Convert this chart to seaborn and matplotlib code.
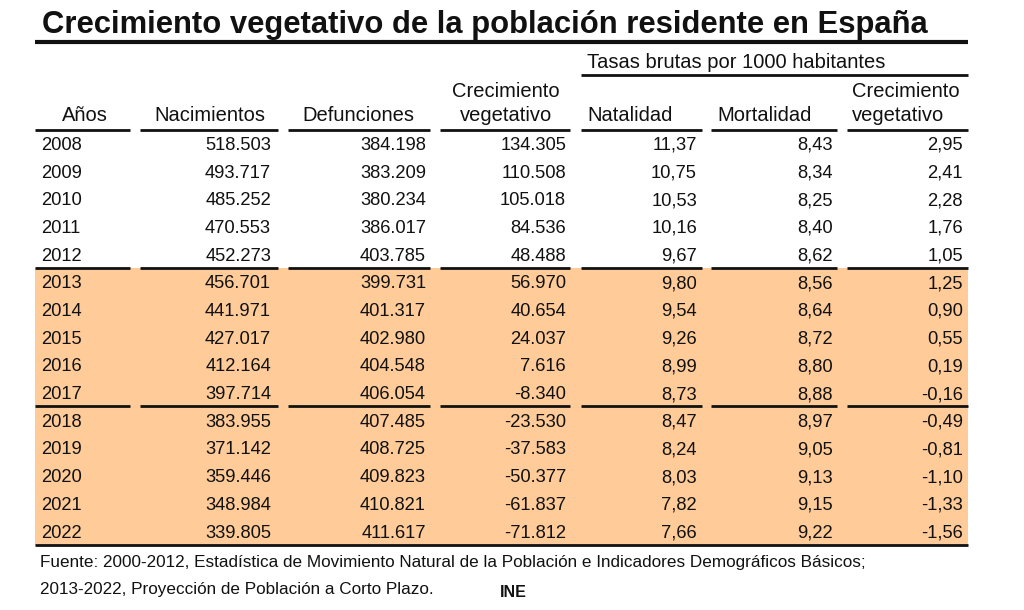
import matplotlib
matplotlib.use("Agg")
import matplotlib.pyplot as plt
import seaborn as sns
import pandas as pd

# ---------------- data ----------------
years = [2008, 2009, 2010, 2011, 2012, 2013, 2014, 2015, 2016, 2017,
         2018, 2019, 2020, 2021, 2022]
nacimientos = [518503, 493717, 485252, 470553, 452273, 456701, 441971, 427017,
               412164, 397714, 383955, 371142, 359446, 348984, 339805]
defunciones = [384198, 383209, 380234, 386017, 403785, 399731, 401317, 402980,
               404548, 406054, 407485, 408725, 409823, 410821, 411617]
crecimiento = [134305, 110508, 105018, 84536, 48488, 56970, 40654, 24037,
               7616, -8340, -23530, -37583, -50377, -61837, -71812]
natalidad = [11.37, 10.75, 10.53, 10.16, 9.67, 9.80, 9.54, 9.26, 8.99, 8.73,
             8.47, 8.24, 8.03, 7.82, 7.66]
mortalidad = [8.43, 8.34, 8.25, 8.40, 8.62, 8.56, 8.64, 8.72, 8.80, 8.88,
              8.97, 9.05, 9.13, 9.15, 9.22]
crec_tasa = [2.95, 2.41, 2.28, 1.76, 1.05, 1.25, 0.90, 0.55, 0.19, -0.16,
             -0.49, -0.81, -1.10, -1.33, -1.56]
first_projected_year = 2013

title = "Crecimiento vegetativo de la población residente en España"
group_header = "Tasas brutas por 1000 habitantes"
col_headers = ["Años", "Nacimientos", "Defunciones", "Crecimiento\nvegetativo",
               "Natalidad", "Mortalidad", "Crecimiento\nvegetativo"]
footnote1 = ("Fuente: 2000-2012, Estadística de Movimiento Natural de la Población "
             "e Indicadores Demográficos Básicos;")
footnote2 = "2013-2022, Proyección de Población a Corto Plazo."
source = "INE"

df = pd.DataFrame({"Años": years, "Nacimientos": nacimientos,
                   "Defunciones": defunciones, "Crecimiento": crecimiento,
                   "Natalidad": natalidad, "Mortalidad": mortalidad,
                   "CrecTasa": crec_tasa})

def fmt_int(v):
    return f"{v:,}".replace(",", ".")

def fmt_dec(v):
    return f"{v:.2f}".replace(".", ",")

# ---------------- style ----------------
sns.set_theme(style="white")
plt.rcParams["font.family"] = ["Liberation Sans", "DejaVu Sans"]
ink = "#111111"
peach = "#FFCC99"

fig = plt.figure(figsize=(10.24, 6.10), dpi=100)
ax = fig.add_axes([0, 0, 1, 1])
ax.set_xlim(0, 1024)
ax.set_ylim(610, 0)
ax.axis("off")

left, right = 35, 968
row0, row_h = 143.0, 27.7
segs = [(35, 130), (140, 278), (288, 430), (440, 570),
        (581, 702), (711, 837), (847, 968)]

def row_y(i):
    return row0 + i * row_h

def seg_line(y, lw=2.0):
    for a, b in segs:
        ax.plot([a, b], [y, y], color=ink, lw=lw, solid_capstyle="butt")

# shaded projection rows
i_proj = years.index(first_projected_year)
ax.fill_between([left, right], row_y(i_proj) - row_h / 2,
                row_y(len(years) - 1) + row_h / 2, color=peach, lw=0, zorder=0)

# title
ax.text(42, 33, title, fontsize=22.3, fontweight="bold", color=ink,
        ha="left", va="baseline")
ax.plot([left, right], [42, 42], color=ink, lw=3.0, solid_capstyle="butt")

# group header
ax.text(587, 68, group_header, fontsize=14.5, color=ink, ha="left", va="baseline")
ax.plot([581, right], [75, 75], color=ink, lw=2.0, solid_capstyle="butt")

# column headers
hfs = 14.5
hx = [(85, "center"), (210, "center"), (358, "center"), (506, "center"),
      (587, "left"), (717, "left"), (852, "left")]
for (x, ha), h in zip(hx, col_headers):
    lines = h.split("\n")
    if len(lines) == 2:
        ax.text(x, 97, lines[0], fontsize=hfs, color=ink, ha=ha, va="baseline")
        ax.text(x, 121, lines[1], fontsize=hfs, color=ink, ha=ha, va="baseline")
    else:
        ax.text(x, 121, lines[0], fontsize=hfs, color=ink, ha=ha, va="baseline")
seg_line(130)

# body
nfs = 13.2
num_cols = [("Nacimientos", 271, fmt_int), ("Defunciones", 426, fmt_int),
            ("Crecimiento", 566, fmt_int), ("Natalidad", 697, fmt_dec),
            ("Mortalidad", 833, fmt_dec), ("CrecTasa", 963, fmt_dec)]
for i, r in df.iterrows():
    yb = row_y(i) + 6.8
    ax.text(41, yb, str(int(r["Años"])), fontsize=nfs, color=ink,
            ha="left", va="baseline")
    for col, x, f in num_cols:
        v = r[col]
        txt = f(int(v)) if f is fmt_int else f(v)
        ax.text(x, yb, txt, fontsize=nfs, color=ink, ha="right", va="baseline")

# separator lines
seg_line(row_y(years.index(2012)) + row_h / 2)
seg_line(row_y(years.index(2017)) + row_h / 2)
ax.plot([left, right], [row_y(len(years) - 1) + row_h / 2] * 2, color=ink,
        lw=2.0, solid_capstyle="butt")

# footnotes
ffs = 12.3
ax.text(40, 567, footnote1, fontsize=ffs, color=ink, ha="left", va="baseline")
ax.text(40, 594, footnote2, fontsize=ffs, color=ink, ha="left", va="baseline")
ax.text(500, 597, source, fontsize=11.5, fontweight="bold", color=ink,
        ha="left", va="baseline")

fig.savefig("out.png", dpi=100, facecolor="white")
